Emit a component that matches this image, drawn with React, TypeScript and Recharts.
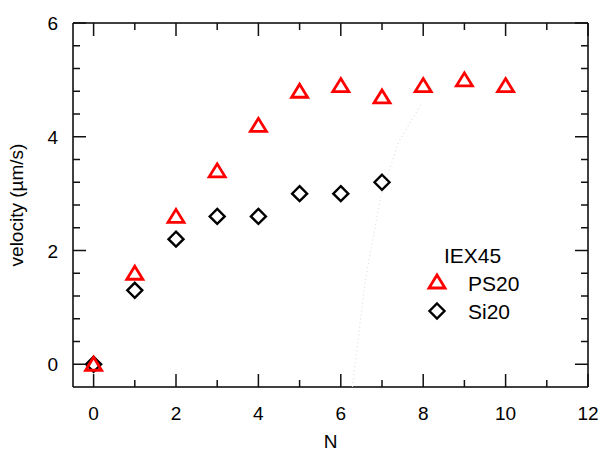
import React from 'react';
import { ScatterChart, Scatter, XAxis, YAxis, Legend } from 'recharts';

const nPs20 = [0, 1, 2, 3, 4, 5, 6, 7, 8, 9, 10];
const vPs20 = [0, 1.6, 2.6, 3.4, 4.2, 4.8, 4.9, 4.7, 4.9, 5.0, 4.9];
const nSi20 = [0, 1, 2, 3, 4, 5, 6, 7];
const vSi20 = [0, 1.3, 2.2, 2.6, 2.6, 3.0, 3.0, 3.2];
// faint dotted guide curve
const nGuide = [6.28, 6.6, 6.97, 7.4, 7.94];
const vGuide = [-0.4, 1.5, 2.95, 3.9, 4.56];

const xTicks = [0, 1, 2, 3, 4, 5, 6, 7, 8, 9, 10, 11, 12];
const yTicks = [0, 0.4, 0.8, 1.2, 1.6, 2, 2.4, 2.8, 3.2, 3.6, 4, 4.4, 4.8, 5.2, 5.6, 6];

const ps20 = nPs20.map((x, i) => ({ x, y: vPs20[i] }));
const si20 = nSi20.map((x, i) => ({ x, y: vSi20[i] }));
const guide = nGuide.map((x, i) => ({ x, y: vGuide[i] }));

const FONT = '"Liberation Sans", Arial, sans-serif';
const M = 10;
const TICK = '#111';
const isMajorX = (v: number) => v % 2 === 0;
const isMajorY = (v: number) => Number.isInteger(v) && v % 2 === 0;

const BottomTick = (props: any) => {
  const { x, y, payload } = props;
  const v = payload.value;
  const ay = y - M;
  const major = isMajorX(v);
  return (
    <g>
      <line x1={x} x2={x} y1={ay} y2={ay - (major ? 13 : 7)} stroke={TICK} strokeWidth={1.5} />
      {major && (
        <text x={x} y={ay + 33} textAnchor="middle" fontSize={19} fontFamily={FONT} fill="#000">
          {v}
        </text>
      )}
    </g>
  );
};

const TopTick = (props: any) => {
  const { x, y, payload } = props;
  const ay = y + M;
  const major = isMajorX(payload.value);
  return <line x1={x} x2={x} y1={ay} y2={ay + (major ? 13 : 7)} stroke={TICK} strokeWidth={1.5} />;
};

const LeftTick = (props: any) => {
  const { x, y, payload } = props;
  const v = payload.value;
  const ax = x + M;
  const major = isMajorY(v);
  return (
    <g>
      <line x1={ax} x2={ax + (major ? 13 : 7)} y1={y} y2={y} stroke={TICK} strokeWidth={1.5} />
      {major && (
        <text x={ax - 15} y={y + 7} textAnchor="end" fontSize={19} fontFamily={FONT} fill="#000">
          {v}
        </text>
      )}
    </g>
  );
};

const RightTick = (props: any) => {
  const { x, y, payload } = props;
  const ax = x - M;
  const major = isMajorY(payload.value);
  return <line x1={ax} x2={ax - (major ? 13 : 7)} y1={y} y2={y} stroke={TICK} strokeWidth={1.5} />;
};

const Triangle = (props: any) => {
  const { cx, cy } = props;
  return (
    <polygon
      points={`${cx},${cy - 7} ${cx + 8},${cy + 6} ${cx - 8},${cy + 6}`}
      fill="none"
      stroke="#ff0000"
      strokeWidth={2.8}
    />
  );
};

const Diamond = (props: any) => {
  const { cx, cy } = props;
  return (
    <polygon
      points={`${cx},${cy - 7.5} ${cx + 7.5},${cy} ${cx},${cy + 7.5} ${cx - 7.5},${cy}`}
      fill="none"
      stroke="#000"
      strokeWidth={2.4}
    />
  );
};

const LegendBox = () => (
  <svg width={150} height={90} style={{ overflow: 'visible' }}>
    <text x={24} y={25} fontSize={21} fontFamily={FONT} fill="#000">IEX45</text>
    <Triangle cx={17} cy={44} />
    <text x={48} y={53} fontSize={21} fontFamily={FONT} fill="#000">PS20</text>
    <Diamond cx={17} cy={73} />
    <text x={48} y={81} fontSize={21} fontFamily={FONT} fill="#000">Si20</text>
  </svg>
);

export default function App() {
  return (
    <div style={{ position: 'absolute', left: 0, top: 0, background: '#fff' }}>
      <ScatterChart width={602} height={452} margin={{ top: 22, right: 13, bottom: 0, left: 0 }}>
        <XAxis
          xAxisId="b"
          dataKey="x"
          type="number"
          domain={[-0.5, 12]}
          ticks={xTicks}
          interval={0}
          tickSize={0}
          tickMargin={M}
          tickLine={false}
          tick={<BottomTick />}
          axisLine={{ stroke: '#000', strokeWidth: 1.5 }}
          height={65}
          label={{ value: 'N', position: 'insideBottom', offset: 4, fontSize: 19, fontFamily: FONT, fill: '#000' }}
        />
        <XAxis
          xAxisId="t"
          orientation="top"
          dataKey="x"
          type="number"
          domain={[-0.5, 12]}
          ticks={xTicks}
          interval={0}
          tickSize={0}
          tickMargin={M}
          tickLine={false}
          tick={<TopTick />}
          axisLine={{ stroke: '#000', strokeWidth: 1.5 }}
          height={1}
        />
        <YAxis
          yAxisId="l"
          dataKey="y"
          type="number"
          domain={[-0.4, 6]}
          ticks={yTicks}
          interval={0}
          tickSize={0}
          tickMargin={M}
          tickLine={false}
          tick={<LeftTick />}
          axisLine={{ stroke: '#000', strokeWidth: 1.5 }}
          width={73}
          label={{
            value: 'velocity (µm/s)',
            angle: -90,
            position: 'insideLeft',
            offset: 0,
            dx: 16,
            fontSize: 19,
            fontFamily: FONT,
            fill: '#000',
            style: { textAnchor: 'middle' },
          }}
        />
        <YAxis
          yAxisId="r"
          orientation="right"
          dataKey="y"
          type="number"
          domain={[-0.4, 6]}
          ticks={yTicks}
          interval={0}
          tickSize={0}
          tickMargin={M}
          tickLine={false}
          tick={<RightTick />}
          axisLine={{ stroke: '#000', strokeWidth: 1.5 }}
          width={1}
        />
        <Legend
          layout="horizontal"
          verticalAlign="middle"
          align="center"
          content={() => <LegendBox />}
          wrapperStyle={{ position: 'absolute', left: 420, top: 238, width: 150, height: 90 }}
        />
        <Scatter xAxisId="t" yAxisId="r" data={ps20} shape={() => null} isAnimationActive={false} legendType="none" />
        <Scatter
          xAxisId="b"
          yAxisId="l"
          data={guide}
          line={{ stroke: '#d8d8d8', strokeWidth: 1, strokeDasharray: '1 3' }}
          shape={() => null}
          isAnimationActive={false}
          legendType="none"
        />
        <Scatter xAxisId="b" yAxisId="l" name="Si20" data={si20} shape={<Diamond />} isAnimationActive={false} />
        <Scatter xAxisId="b" yAxisId="l" name="PS20" data={ps20} shape={<Triangle />} isAnimationActive={false} />
      </ScatterChart>
    </div>
  );
}
